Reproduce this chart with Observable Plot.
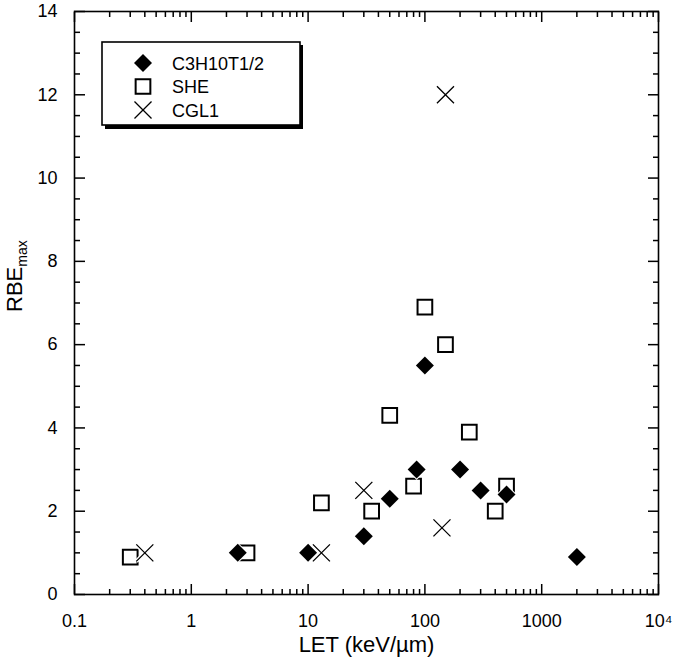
<!DOCTYPE html>
<html>
<head>
<meta charset="utf-8">
<script src="https://cdn.jsdelivr.net/npm/d3@7"></script>
<script src="https://cdn.jsdelivr.net/npm/@observablehq/plot@0.6"></script>
<style>
  html, body { margin: 0; padding: 0; background: #fff; }
  svg { display: block; }
</style>
</head>
<body>
<div id="chart"></div>
<script>
// ---- data ----
const c3Let = [2.5, 10, 30, 50, 85, 100, 200, 300, 500, 2000];
const c3Rbe = [1.0, 1.0, 1.4, 2.3, 3.0, 5.5, 3.0, 2.5, 2.4, 0.9];
const sheLet = [0.3, 3, 13, 35, 50, 80, 100, 150, 240, 400, 500];
const sheRbe = [0.9, 1.0, 2.2, 2.0, 4.3, 2.6, 6.9, 6.0, 3.9, 2.0, 2.6];
const cglLet = [0.4, 13, 30, 140, 150];
const cglRbe = [1.0, 1.0, 2.5, 1.6, 12.0];

const seriesNames = ["C3H10T1/2", "SHE", "CGL1"];
const xMajor = [0.1, 1, 10, 100, 1000, 10000];
const xLabels = ["0.1", "1", "10", "100", "1000", "10⁴"];
const minorMult = [2, 3, 4, 5, 6, 7, 8, 9];
const yMajor = [0, 2, 4, 6, 8, 10, 12, 14];
const yMinor = [0.5, 1, 1.5, 2.5, 3, 3.5, 4.5, 5, 5.5, 6.5, 7, 7.5, 8.5, 9, 9.5, 10.5, 11, 11.5, 12.5, 13, 13.5];
const xTitle = "LET (keV/µm)";

const xMinor = xMajor.slice(0, -1).flatMap(d => minorMult.map(m => +(d * m).toPrecision(3)));
const c3 = c3Let.map((x, i) => ({x, y: c3Rbe[i]}));
const she = sheLet.map((x, i) => ({x, y: sheRbe[i]}));
const cgl = cglLet.map((x, i) => ({x, y: cglRbe[i]}));
const fmtX = d => xLabels[xMajor.indexOf(d)];

const rDiamond = 8.1, rSquare = 8.3, rTimes = 7.8;
const none = () => "";
const FONT = "'Liberation Sans', Arial, sans-serif";

const chart = Plot.plot({
  width: 674,
  height: 672,
  marginLeft: 74,
  marginRight: 16,
  marginTop: 11,
  marginBottom: 78,
  x: {type: "log", domain: [0.1, 10000]},
  y: {domain: [0, 14]},
  style: {fontFamily: FONT, fontSize: "18px", color: "black", background: "white"},
  marks: [
    // inward ticks, all four sides
    Plot.axisX(xMajor, {anchor: "bottom", tickSize: 10, dy: -10, tickFormat: none, label: null, strokeWidth: 1.5}),
    Plot.axisX(xMinor, {anchor: "bottom", tickSize: 5, dy: -5, tickFormat: none, label: null, strokeWidth: 1.5}),
    Plot.axisX(xMajor, {anchor: "top", tickSize: 10, dy: 10, tickFormat: none, label: null, strokeWidth: 1.5}),
    Plot.axisX(xMinor, {anchor: "top", tickSize: 5, dy: 5, tickFormat: none, label: null, strokeWidth: 1.5}),
    Plot.axisY(yMajor, {anchor: "left", tickSize: 11, dx: 11, tickFormat: none, label: null, strokeWidth: 1.5}),
    Plot.axisY(yMinor, {anchor: "left", tickSize: 6, dx: 6, tickFormat: none, label: null, strokeWidth: 1.5}),
    Plot.axisY(yMajor, {anchor: "right", tickSize: 11, dx: -11, tickFormat: none, label: null, strokeWidth: 1.5}),
    Plot.axisY(yMinor, {anchor: "right", tickSize: 6, dx: -6, tickFormat: none, label: null, strokeWidth: 1.5}),
    // tick labels
    Plot.axisX(xMajor, {anchor: "bottom", tickSize: 0, tickPadding: 20, tickFormat: fmtX, label: null}),
    Plot.axisY(yMajor, {anchor: "left", tickSize: 0, tickPadding: 17, label: null}),
    Plot.frame({stroke: "black", strokeWidth: 1.6}),
    Plot.text([xTitle], {frameAnchor: "bottom", dy: 57, fontSize: 22}),
    // data
    Plot.dot(she, {x: "x", y: "y", symbol: "square", r: rSquare, stroke: "black", strokeWidth: 2, fill: "none"}),
    Plot.dot(c3, {x: "x", y: "y", symbol: "diamond2", r: rDiamond, fill: "black", stroke: "white", strokeWidth: 2, paintOrder: "stroke"}),
    Plot.dot(cgl, {x: "x", y: "y", symbol: "times", r: rTimes, stroke: "white", strokeWidth: 4}),
    Plot.dot(cgl, {x: "x", y: "y", symbol: "times", r: rTimes, stroke: "black", strokeWidth: 1.3})
  ]
});
document.getElementById("chart").appendChild(chart);

// y-axis title with subscript
const svg = d3.select(chart);
const yt = svg.append("text")
  .attr("transform", "translate(22,312) rotate(-90)")
  .attr("text-anchor", "start")
  .attr("font-family", FONT)
  .attr("font-size", 22)
  .attr("fill", "black");
yt.append("tspan").text("RBE");
yt.append("tspan").attr("font-size", 14).attr("dy", 5).text("max");

// legend box with shadow
const lg = svg.append("g");
lg.append("rect").attr("x", 105).attr("y", 45).attr("width", 198).attr("height", 84).attr("fill", "black");
lg.append("rect").attr("x", 102).attr("y", 42).attr("width", 198).attr("height", 83)
  .attr("fill", "white").attr("stroke", "black").attr("stroke-width", 1.6);
const rows = [
  {name: seriesNames[0], type: d3.symbolDiamond2, r: rDiamond, fill: "black", stroke: "none", sw: 0},
  {name: seriesNames[1], type: d3.symbolSquare, r: rSquare, fill: "none", stroke: "black", sw: 2},
  {name: seriesNames[2], type: d3.symbolTimes, r: rTimes, fill: "none", stroke: "black", sw: 1.3}
];
rows.forEach((row, i) => {
  const cy = 63 + i * 23.5;
  lg.append("path")
    .attr("transform", `translate(143,${cy})`)
    .attr("d", d3.symbol(row.type, Math.PI * row.r * row.r)())
    .attr("fill", row.fill).attr("stroke", row.stroke).attr("stroke-width", row.sw);
  lg.append("text")
    .attr("x", 172).attr("y", cy + 6.5)
    .attr("text-anchor", "start")
    .attr("font-family", FONT)
    .attr("font-size", 18).attr("fill", "black")
    .text(row.name);
});
</script>
</body>
</html>
